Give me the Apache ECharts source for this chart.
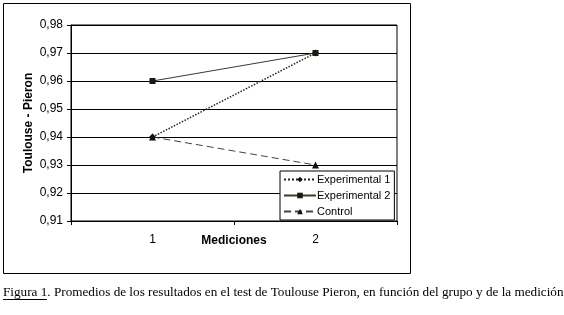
<!DOCTYPE html>
<html>
<head>
<meta charset="utf-8">
<script src="https://cdn.jsdelivr.net/npm/echarts@6/dist/echarts.min.js"></script>
<style>
  html, body { margin: 0; padding: 0; background: #fff; }
  #chart { width: 564px; height: 315px; }
</style>
</head>
<body>
<div id="chart"></div>
<script>
var categories = ['1', '2'];
var exp1 = [0.94, 0.97];
var exp2 = [0.96, 0.97];
var control = [0.94, 0.93];
var seriesNames = ['Experimental 1', 'Experimental 2', 'Control'];

var sans = '"Liberation Sans", Arial, sans-serif';
var serif = '"Liberation Serif", "Times New Roman", serif';

var myChart = echarts.init(document.getElementById('chart'));

var option = {
  backgroundColor: '#fff',
  animation: false,
  grid: {
    left: 71,
    right: 167,
    top: 25,
    bottom: 94,
    show: true,
    borderColor: '#000',
    borderWidth: 1
  },
  xAxis: {
    type: 'category',
    data: categories,
    boundaryGap: true,
    name: 'Mediciones',
    nameLocation: 'middle',
    nameGap: 14,
    nameMoveOverlap: false,
    nameTextStyle: { fontFamily: sans, fontSize: 12, fontWeight: 'bold', color: '#000' },
    axisLine: { lineStyle: { color: '#000', width: 1 } },
    axisTick: { show: true, length: 4, lineStyle: { color: '#000' } },
    axisLabel: { fontFamily: sans, fontSize: 12, color: '#000', margin: 13 }
  },
  yAxis: {
    type: 'value',
    min: 0.91,
    max: 0.98,
    interval: 0.01,
    name: 'Toulouse - Pieron',
    nameLocation: 'middle',
    nameGap: 36,
    nameMoveOverlap: false,
    nameTextStyle: { fontFamily: sans, fontSize: 12, fontWeight: 'bold', color: '#000' },
    axisLine: { show: true, lineStyle: { color: '#000', width: 1 } },
    axisTick: { show: true, length: 4, lineStyle: { color: '#000' } },
    axisLabel: {
      fontFamily: sans, fontSize: 12, color: '#000', margin: 8,
      formatter: function (v) { return v.toFixed(2).replace('.', ','); }
    },
    splitLine: { show: true, lineStyle: { color: '#000', width: 1 } }
  },
  legend: {
    orient: 'vertical',
    left: 280,
    top: 171,
    data: seriesNames,
    itemWidth: 32,
    itemHeight: 7,
    itemGap: 5,
    padding: [3, 4, 3, 3],
    borderColor: '#000',
    borderWidth: 1,
    backgroundColor: '#fff',
    textStyle: { fontFamily: sans, fontSize: 11, color: '#000', padding: [0, 0, 0, -4] }
  },
  series: [
    {
      name: seriesNames[0],
      type: 'line',
      data: exp1,
      symbol: 'diamond',
      symbolSize: 7,
      color: '#111',
      lineStyle: { type: 'dotted', width: 1.5, color: '#222' },
      itemStyle: { color: '#111' }
    },
    {
      name: seriesNames[1],
      type: 'line',
      data: exp2,
      symbol: 'rect',
      symbolSize: 6,
      color: '#1a1a10',
      lineStyle: { type: 'solid', width: 1, color: '#3a3a28' },
      itemStyle: { color: '#1a1a10' }
    },
    {
      name: seriesNames[2],
      type: 'line',
      data: control,
      symbol: 'triangle',
      symbolSize: 7,
      color: '#111',
      lineStyle: { type: [7, 4], width: 1, color: '#444' },
      itemStyle: { color: '#111' }
    }
  ],
  graphic: [
    {
      type: 'rect',
      shape: { x: 3.5, y: 3.5, width: 407, height: 270 },
      style: { fill: null, stroke: '#000', lineWidth: 1 },
      silent: true
    },
    {
      type: 'text',
      left: 3,
      top: 286,
      style: {
        text: 'Figura 1. Promedios de los resultados en el test de Toulouse Pieron, en función del grupo y de la medición',
        font: '13.2px ' + serif,
        fill: '#000'
      }
    },
    {
      type: 'line',
      shape: { x1: 3, y1: 299.5, x2: 47, y2: 299.5 },
      style: { stroke: '#000', lineWidth: 1 }
    }
  ]
};

myChart.setOption(option);
</script>
</body>
</html>
